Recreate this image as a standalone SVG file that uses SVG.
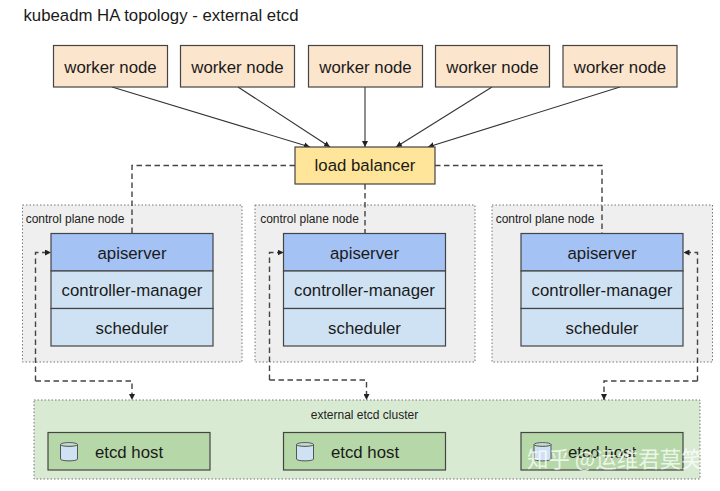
<svg xmlns="http://www.w3.org/2000/svg" width="720" height="491" viewBox="0 0 720 491">
<style>
text{font-family:"Liberation Sans",Arial,sans-serif;text-anchor:middle;fill:#1a1a1a}
.big{font-size:16.8px}
.small{font-size:12px;fill:#222}
.box{stroke:#444;stroke-width:1.2}
.worker{fill:#fce5cd}
.lb{fill:#ffe599}
.group{fill:#efefef;stroke:#777;stroke-width:1;stroke-dasharray:1.5 2}
.etcdgroup{fill:#d9ead3;stroke:#777;stroke-width:1;stroke-dasharray:1.5 2}
.api{fill:#a4c2f4}
.comp{fill:#cfe2f3}
.host{fill:#b6d7a8}
.can{fill:#cfe2f3;stroke:#555;stroke-width:1}
.solid{fill:none;stroke:#333;stroke-width:1.1;marker-end:url(#arrow)}
.dash{fill:none;stroke:#444;stroke-width:1.4;stroke-dasharray:5.500 3.500}
.dasha{fill:none;stroke:#444;stroke-width:1.4;stroke-dasharray:5.500 3.500;marker-end:url(#arrow)}
</style>
<defs>
<marker id="arrow" markerWidth="7" markerHeight="6" refX="6" refY="3" orient="auto" markerUnits="userSpaceOnUse"><path d="M0 0L6 3L0 6Z" fill="#222"/></marker>
<path id="cyl" d="M0 3.500C0 1 17 1 17 3.500V18C17 20.500 0 20.500 0 18ZM0 3.500C0 6 17 6 17 3.500"/>
</defs>
<rect width="720" height="491" fill="#fff"/>
<text id="title" x="161" y="20.500" style="font-size:16.800px">kubeadm HA topology - external etcd</text>
<g id="cp1"><rect class="group" x="22.500" y="205" width="219.500" height="157"/><text class="small" x="75" y="223">control plane node</text></g>
<g id="cp2"><rect class="group" x="255" y="205" width="220" height="157"/><text class="small" x="309.500" y="223">control plane node</text></g>
<g id="cp3"><rect class="group" x="492" y="205" width="220.500" height="157"/><text class="small" x="545" y="223">control plane node</text></g>
<g id="etcd-cluster"><rect class="etcdgroup" x="34" y="400" width="666" height="79"/><text class="small" x="364.500" y="419">external etcd cluster</text></g>
<g id="connectors">
<path class="solid" d="M112 87L310 147"/>
<path class="solid" d="M238 87L330 147"/>
<path class="solid" d="M365 87V147"/>
<path class="solid" d="M492 87L396 147"/>
<path class="solid" d="M620 87L428 147"/>
<path class="dash" d="M295 165.500H132V233"/>
<path class="dash" d="M365 184V233"/>
<path class="dash" d="M435 165.500H602V233"/>
<path class="dasha" d="M35.500 381V252.500H51"/>
<path class="dasha" d="M35.500 381H132V400"/>
<path class="dasha" d="M269.500 380V252.500H283.500"/>
<path class="dasha" d="M269.500 380H366.500V400"/>
<path class="dasha" d="M697.500 381V252.500H683.500"/>
<path class="dasha" d="M697.500 381H604V400"/>
</g>
<g id="worker1"><rect class="box worker" x="53.500" y="45.500" width="114" height="41.500"/><text class="big" x="110.500" y="72.500">worker node</text></g>
<g id="worker2"><rect class="box worker" x="180.500" y="45.500" width="114" height="41.500"/><text class="big" x="237.500" y="72.500">worker node</text></g>
<g id="worker3"><rect class="box worker" x="308.500" y="45.500" width="114" height="41.500"/><text class="big" x="365.500" y="72.500">worker node</text></g>
<g id="worker4"><rect class="box worker" x="435.500" y="45.500" width="114" height="41.500"/><text class="big" x="492.500" y="72.500">worker node</text></g>
<g id="worker5"><rect class="box worker" x="563" y="45.500" width="114" height="41.500"/><text class="big" x="620" y="72.500">worker node</text></g>
<g id="lb"><rect class="box lb" x="295" y="147" width="140" height="37"/><text class="big" x="365" y="171">load balancer</text></g>
<g id="plane1">
<rect class="box api" x="51" y="233.500" width="162" height="37.500"/><text class="big" x="132" y="258.500">apiserver</text>
<rect class="box comp" x="51" y="271" width="162" height="37.500"/><text class="big" x="132" y="296">controller-manager</text>
<rect class="box comp" x="51" y="308.500" width="162" height="37.500"/><text class="big" x="132" y="333.500">scheduler</text>
</g>
<g id="plane2">
<rect class="box api" x="283.500" y="233.500" width="162" height="37.500"/><text class="big" x="364.500" y="258.500">apiserver</text>
<rect class="box comp" x="283.500" y="271" width="162" height="37.500"/><text class="big" x="364.500" y="296">controller-manager</text>
<rect class="box comp" x="283.500" y="308.500" width="162" height="37.500"/><text class="big" x="364.500" y="333.500">scheduler</text>
</g>
<g id="plane3">
<rect class="box api" x="521" y="233.500" width="162" height="37.500"/><text class="big" x="602" y="258.500">apiserver</text>
<rect class="box comp" x="521" y="271" width="162" height="37.500"/><text class="big" x="602" y="296">controller-manager</text>
<rect class="box comp" x="521" y="308.500" width="162" height="37.500"/><text class="big" x="602" y="333.500">scheduler</text>
</g>
<g id="host1"><rect class="box host" x="48" y="432.500" width="162" height="37.500"/><use href="#cyl" class="can" x="60.500" y="441"/><text class="big" x="129" y="457.500">etcd host</text></g>
<g id="host2"><rect class="box host" x="283.500" y="432.500" width="162" height="37.500"/><use href="#cyl" class="can" x="296.500" y="441"/><text class="big" x="365" y="457.500">etcd host</text></g>
<g id="host3"><rect class="box host" x="521" y="432.500" width="162" height="37.500"/><use href="#cyl" class="can" x="534" y="441"/><text class="big" x="602" y="457.500">etcd host</text></g>
<text id="watermark" x="527" y="467" style="font-family:'Noto Sans CJK SC','Liberation Sans',sans-serif;font-size:21.500px;text-anchor:start;fill:#fff;fill-opacity:.75">知乎 @运维君莫笑</text>
</svg>
